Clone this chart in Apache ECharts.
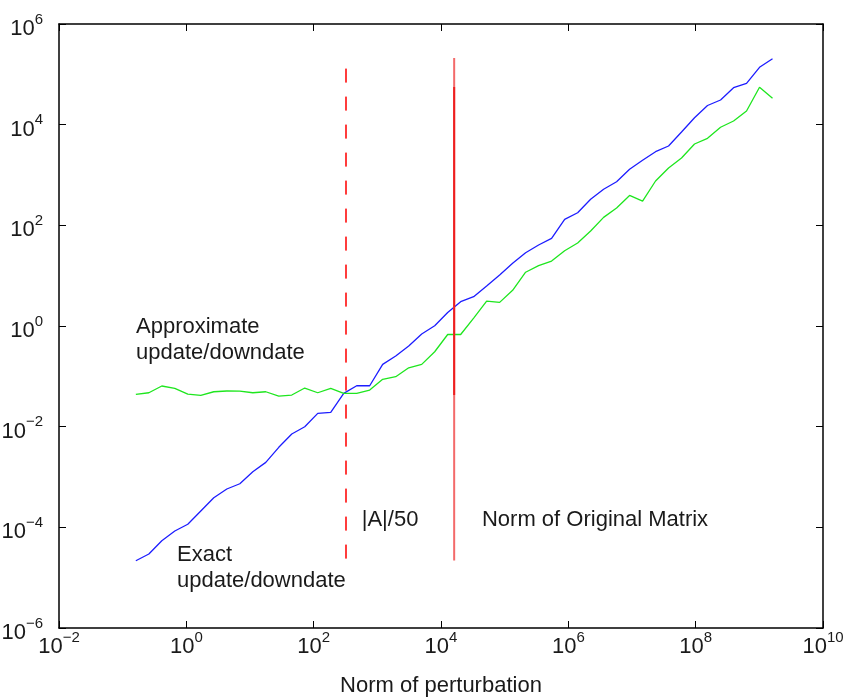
<!DOCTYPE html>
<html>
<head>
<meta charset="UTF-8">
<title>Update/downdate error vs norm of perturbation</title>
<script src="https://cdn.jsdelivr.net/npm/echarts@6.0.0/dist/echarts.min.js"></script>
<style>
    * { margin: 0; padding: 0; }
    body { background: #fff; }
    #chart { width: 845px; height: 697px; }
</style>
</head>
<body>
<div id="chart"></div>
<script>
// norm of perturbation (x)
const perturbation = [0.161, 0.258, 0.412, 0.659, 1.054, 1.687, 2.698, 4.325, 6.918, 11.07,
    17.70, 28.31, 45.29, 72.44, 115.9, 185.4, 296.5, 474.2, 758.6, 1213,
    1945, 3112, 4977, 7962, 12735, 20370, 32584, 52119, 83368, 133400,
    213300, 341200, 545800, 875000, 1400000, 2239000, 3581000, 5728000, 9162000, 14660000,
    23440000, 37500000, 59980000, 95940000, 153500000, 246000000, 393600000, 629500000, 1007000000, 1611000000];

// exact update/downdate (blue)
const exactErr = [2.17e-5, 2.95e-5, 5.42e-5, 8.45e-5, 1.15e-4, 2.11e-4, 3.87e-4, 5.77e-4, 7.35e-4, 1.27e-3,
    1.95e-3, 3.89e-3, 7.14e-3, 9.98e-3, 0.0184, 0.0193, 0.0459, 0.0650, 0.0650, 0.173,
    0.253, 0.400, 0.693, 1.01, 1.85, 3.04, 3.82, 6.23, 10.3, 17.6,
    28.6, 40.6, 55.2, 131, 178, 329, 520, 736, 1297, 1959,
    2904, 3767, 7145, 13750, 24040, 30900, 54200, 66370, 138000, 204600];

// approximate update/downdate (green)
const approxErr = [0.0439, 0.0472, 0.0643, 0.0578, 0.0445, 0.0420, 0.0494, 0.0511, 0.0507, 0.0472,
    0.0494, 0.0406, 0.0425, 0.0586, 0.0472, 0.0578, 0.0459, 0.0459, 0.0535, 0.0873,
    0.0982, 0.148, 0.173, 0.308, 0.678, 0.678, 1.44, 3.13, 2.95, 5.12,
    11.7, 15.8, 19.5, 31.3, 44.6, 77.1, 144, 221, 392, 304,
    760, 1377, 2178, 4130, 5360, 8870, 11830, 18670, 55250, 33400];

const xTicks = [1e-2, 1, 1e2, 1e4, 1e6, 1e8, 1e10];
const yTicks = [1e-6, 1e-4, 1e-2, 1, 1e2, 1e4, 1e6];

// |A| and the vertical reference lines
const normA = 16100;
const dashedSpan = [1.3e5, 1.95e-5];
const solidSpan = [2.1e5, 2.2e-5];
const solidInner = [5.6e4, 0.0426];

const notes = [
    { value: [0.162, 0.527], name: 'Approximate\nupdate/downdate' },
    { value: [0.713, 1.55e-5], name: 'Exact\nupdate/downdate' },
    { value: [568, 1.4e-4], name: '|A|/50' },
    { value: [44000, 1.4e-4], name: 'Norm of Original Matrix' }
];

const font = "'Liberation Sans', Arial, Helvetica, sans-serif";
const textColor = '#1a1a1a';

function powLabel(v) {
    const e = Math.round(Math.log10(v));
    return '{b|10}{s|' + (e < 0 ? '\u2212' + (-e) : e) + '}';
}

const labelRich = {
    b: { fontSize: 22, lineHeight: 28, verticalAlign: 'bottom', color: textColor, fontFamily: font },
    s: { fontSize: 15, lineHeight: 11, verticalAlign: 'top', color: textColor, fontFamily: font }
};

function makeAxis(ticks, min, max, pos, withLabels) {
    return {
        type: 'log',
        logBase: 10,
        min: min,
        max: max,
        position: pos,
        axisLine: { show: true, onZero: false, lineStyle: { color: '#000', width: 1.5 } },
        axisTick: { show: true, inside: true, length: 7, customValues: ticks, lineStyle: { color: '#000', width: 1 } },
        axisLabel: {
            show: withLabels,
            customValues: ticks,
            formatter: powLabel,
            rich: labelRich,
            padding: (pos === 'bottom') ? 0 : [4, 0, 0, 0],
            margin: (pos === 'bottom') ? 2 : 16
        },
        splitLine: { show: false },
        minorTick: { show: false }
    };
}

const xMain = makeAxis(xTicks, 1e-2, 1e10, 'bottom', true);
xMain.name = 'Norm of perturbation';
xMain.nameLocation = 'middle';
xMain.nameGap = 47;
xMain.nameTextStyle = { fontSize: 22, color: textColor, fontFamily: font };

const chart = echarts.init(document.getElementById('chart'));
chart.setOption({
    animation: false,
    backgroundColor: '#fff',
    grid: { left: 59, right: 22, top: 24, bottom: 69, containLabel: false, outerBoundsMode: 'none' },
    xAxis: [xMain, makeAxis(xTicks, 1e-2, 1e10, 'top', false)],
    yAxis: [makeAxis(yTicks, 1e-6, 1e6, 'left', true), makeAxis(yTicks, 1e-6, 1e6, 'right', false)],
    series: [
        {
            name: 'Exact',
            type: 'line',
            symbol: 'none',
            data: perturbation.map((x, i) => [x, exactErr[i]]),
            lineStyle: { color: '#1d1dff', width: 1.3 }
        },
        {
            name: 'Approximate',
            type: 'line',
            symbol: 'none',
            data: perturbation.map((x, i) => [x, approxErr[i]]),
            lineStyle: { color: '#1ee61e', width: 1.3 }
        },
        {
            name: '|A|/50',
            type: 'line',
            symbol: 'none',
            data: dashedSpan.map(y => [normA / 50, y]),
            lineStyle: { color: '#ff3c3c', width: 2, type: [14, 14] }
        },
        {
            name: '|A|',
            type: 'line',
            symbol: 'none',
            data: solidSpan.map(y => [normA, y]),
            lineStyle: { color: '#f36a6a', width: 2 }
        },
        {
            name: '|A| inner',
            type: 'line',
            symbol: 'none',
            data: solidInner.map(y => [normA, y]),
            lineStyle: { color: '#ee1f1f', width: 2 }
        },
        {
            name: 'notes',
            type: 'scatter',
            symbolSize: 0,
            itemStyle: { opacity: 1 },
            data: notes,
            label: {
                show: true,
                position: 'right',
                distance: 0,
                formatter: p => p.name,
                fontSize: 22,
                lineHeight: 26,
                color: textColor,
                opacity: 1,
                fontFamily: font
            }
        }
    ]
});
</script>
</body>
</html>
